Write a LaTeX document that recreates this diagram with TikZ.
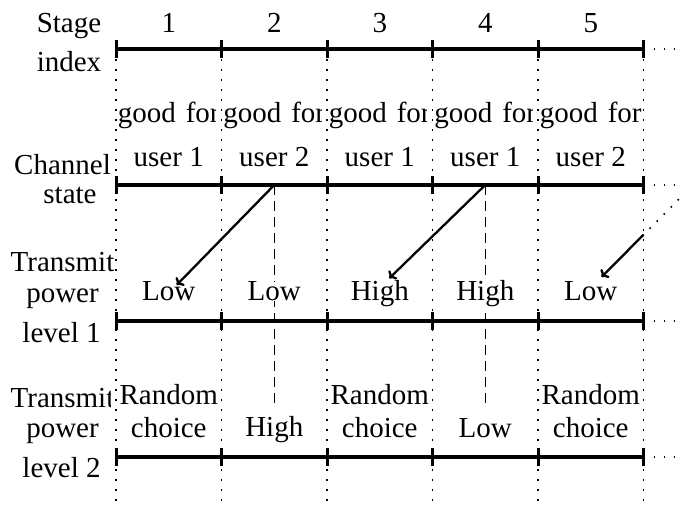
\documentclass[tikz,border=0pt]{standalone}
\usepackage{fontspec}
\setmainfont{Liberation Serif}
\usetikzlibrary{arrows.meta}
\begin{document}
\begin{tikzpicture}[x=1pt,y=-1pt,
  every node/.style={font=\fontsize{29}{33}\selectfont, inner sep=0pt},
  lbl/.style={anchor=base},
  cell/.style={anchor=base, fill=white, minimum width=116pt, align=center},
  axis/.style={line width=4pt},
  tickmark/.style={line width=3pt},
  gridline/.style={line width=1.6pt, dash pattern=on 1.6pt off 8.4pt},
  link/.style={line width=1.3pt, dash pattern=on 10pt off 6pt},
  arr/.style={line width=2.3pt, -{To[length=6pt,width=12pt]}},
]
\useasboundingbox (0,0) rectangle (681,513);
% boundaries
\foreach \i/\x in {0/116,1/221.5,2/327,3/432.5,4/538,5/643.5}{
  \coordinate (s\i) at (\x,49);
  \coordinate (c\i) at (\x,185);
  \coordinate (p\i) at (\x,321);
  \coordinate (q\i) at (\x,457);
  \coordinate (b\i) at (\x,508);
}
\coordinate (se) at (681,49);
\coordinate (ce) at (681,185);
\coordinate (pe) at (681,321);
\coordinate (qe) at (681,457);
% dashed links
\coordinate (m2) at (274.25,185);
\coordinate (m4) at (485.25,185);
\coordinate (m6) at (693,185);
\coordinate (d2) at (274.25,408);
\coordinate (d4) at (485.25,408);
\draw[link] (m2) -- (d2);
\draw[link] (m4) -- (d4);
% left labels
\node[lbl] (l1) at (69,33) {Stage};
\node[lbl] (l2) at (69,72) {index};
\node[lbl] (l3) at (62.5,175) {Channel};
\node[lbl] (l4) at (70,204) {state};
\node[lbl] (l5) at (62.5,272) {Transmit};
\node[lbl] (l6) at (62.5,303) {power};
\node[lbl] (l7) at (61.5,343) {level 1};
\node[lbl] (l8) at (62.5,407) {Transmit};
\node[lbl] (l9) at (62.5,438) {power};
\node[lbl] (l10) at (61.5,478) {level 2};
% stage numbers
\node[lbl] (n1) at (168.75,33) {1};
\node[lbl] (n2) at (274.25,33) {2};
\node[lbl] (n3) at (379.75,33) {3};
\node[lbl] (n4) at (485.25,33) {4};
\node[lbl] (n5) at (590.75,33) {5};
% channel state cells (anchored at the baseline of their last line)
\node[cell] (g1) at (168.75,167) {good\hspace{10pt}for\\[11pt]user 1};
\node[cell] (g2) at (274.25,167) {good\hspace{10pt}for\\[11pt]user 2};
\node[cell] (g3) at (379.75,167) {good\hspace{10pt}for\\[11pt]user 1};
\node[cell] (g4) at (485.25,167) {good\hspace{10pt}for\\[11pt]user 1};
\node[cell] (g5) at (590.75,167) {good\hspace{10pt}for\\[11pt]user 2};
% power level 1
\node[cell] (a1) at (168.75,301) {Low};
\node[cell] (a2) at (274.25,301) {Low};
\node[cell] (a3) at (379.75,301) {High};
\node[cell] (a4) at (485.25,301) {High};
\node[cell] (a5) at (590.75,301) {Low};
% power level 2
\node[cell] (r1) at (168.75,438) {Random\\choice};
\node[cell] (r2) at (274.25,436) {High};
\node[cell] (r3) at (379.75,438) {Random\\choice};
\node[cell] (r4) at (485.25,438) {Low};
\node[cell] (r5) at (590.75,438) {Random\\choice};
% dotted grid
\foreach \i in {0,...,5}{ \draw[gridline] (s\i) -- (b\i); }
\draw[gridline] (s5) -- (se);
\draw[gridline] (c5) -- (ce);
\draw[gridline] (p5) -- (pe);
\draw[gridline] (q5) -- (qe);
% axes
\foreach \r in {s,c,p,q}{
  \draw[axis] (\r0) -- (\r5);
  \foreach \i in {0,...,5}{
    \draw[tickmark] ([yshift=-9pt]\r\i) -- ([yshift=9pt]\r\i);
  }
}
% arrows
\coordinate (e1) at (176.7,285);
\coordinate (e2) at (389.3,278.3);
\coordinate (e3) at (601.5,277);
\coordinate (k3) at (643.5,234.8);
\draw[arr] (m2) -- (e1);
\draw[arr] (m4) -- (e2);
\draw[gridline] (m6) -- (k3);
\draw[arr] (k3) -- (e3);
\end{tikzpicture}
\end{document}
